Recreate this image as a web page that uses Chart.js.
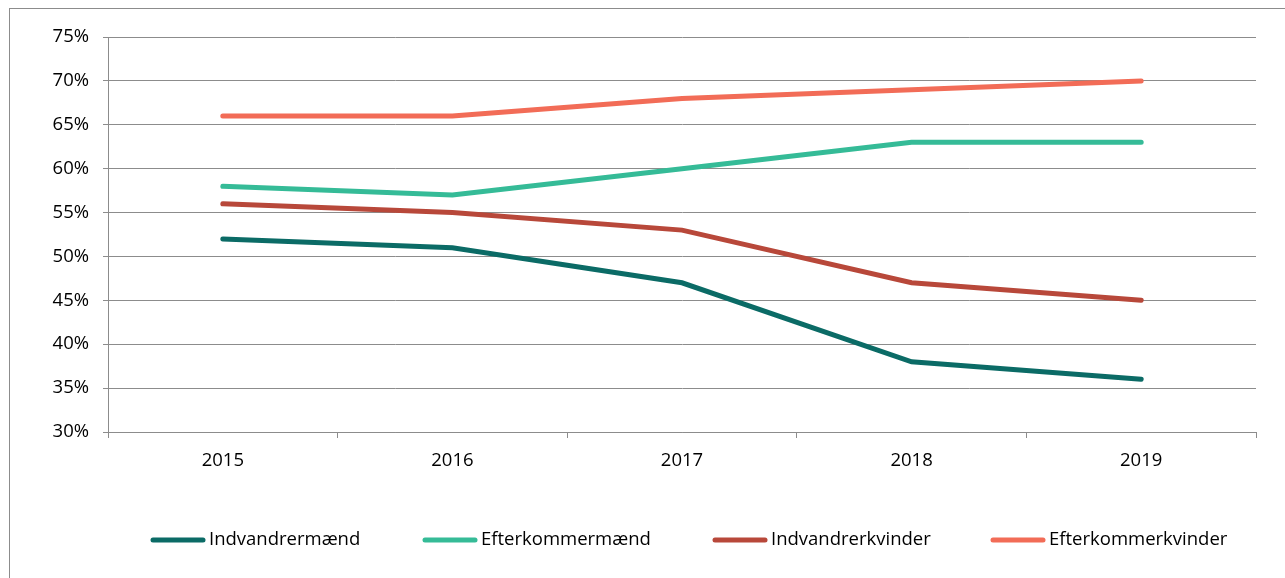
<!DOCTYPE html>
<html>
<head>
    <meta charset="utf-8">
    <title>Beskæftigelse</title>
    <script src="https://cdn.jsdelivr.net/npm/chart.js"></script>
    <style>
        body { margin: 0; background: #fff; }
        #frame { position: absolute; left: 9px; top: 8px; width: 1290px; height: 590px;
                 border-left: 1px solid #8c8c8c; border-top: 1px solid #8c8c8c; }
        #wrap { position: absolute; left: 0; top: 0; width: 1285px; height: 578px; }
    </style>
</head>
<body>
    <div id="frame"></div>
    <div id="wrap"><canvas id="myChart" width="1285" height="578"></canvas></div>

    <script>
        // data
        var years = ['2015', '2016', '2017', '2018', '2019'];
        var indvandrerMaend = [52, 51, 47, 38, 36];
        var efterkommerMaend = [58, 57, 60, 63, 63];
        var indvandrerKvinder = [56, 55, 53, 47, 45];
        var efterkommerKvinder = [66, 66, 68, 69, 70];
        var yTicks = [30, 35, 40, 45, 50, 55, 60, 65, 70, 75];

        var FONT = 'Open Sans';

        function line(label, data, color) {
            return {
                label: label, data: data, borderColor: color, backgroundColor: color,
                borderWidth: 5, borderCapStyle: 'round', pointRadius: 0, tension: 0, fill: false
            };
        }

        // own legend so it sits where the original one is
        var legendPlugin = {
            id: 'ownLegend',
            afterDraw: function(chart) {
                var ctx = chart.ctx;
                var starts = [150, 422, 712, 990];
                var y = 540;
                ctx.save();
                ctx.font = '18.5px "' + FONT + '"';
                ctx.textBaseline = 'middle';
                chart.data.datasets.forEach(function(ds, i) {
                    var x = starts[i];
                    ctx.strokeStyle = ds.borderColor;
                    ctx.lineWidth = 5;
                    ctx.lineCap = 'round';
                    ctx.beginPath();
                    ctx.moveTo(x + 3, y);
                    ctx.lineTo(x + 53, y);
                    ctx.stroke();
                    ctx.fillStyle = '#000';
                    ctx.fillText(ds.label, x + 59, y);
                });
                ctx.restore();
            }
        };

        var ctx = document.getElementById('myChart').getContext('2d');
        var myChart = new Chart(ctx, {
            type: 'line',
            data: {
                labels: years,
                datasets: [
                    line('Indvandrermænd', indvandrerMaend, '#0b6b66'),
                    line('Efterkommermænd', efterkommerMaend, '#35bb97'),
                    line('Indvandrerkvinder', indvandrerKvinder, '#b8483a'),
                    line('Efterkommerkvinder', efterkommerKvinder, '#f26c57')
                ]
            },
            options: {
                responsive: false,
                animation: false,
                layout: { padding: { left: 0, right: 29, top: 37, bottom: 0 } },
                plugins: { legend: { display: false }, tooltip: { enabled: false } },
                scales: {
                    x: {
                        offset: true,
                        grid: { offset: true, drawOnChartArea: false, drawTicks: true, tickLength: 6, color: '#8c8c8c' },
                        border: { color: '#8c8c8c' },
                        ticks: { color: '#000', padding: 12, font: { family: FONT, size: 18.5 } },
                        afterFit: function(s) { s.height = 146; }
                    },
                    y: {
                        min: 30, max: 75,
                        afterBuildTicks: function(s) { s.ticks = yTicks.map(function(v) { return { value: v }; }); },
                        grid: { color: '#8c8c8c', tickLength: 5 },
                        border: { color: '#8c8c8c' },
                        ticks: {
                            color: '#000', padding: 14, font: { family: FONT, size: 18.5 },
                            callback: function(v) { return v + '%'; }
                        },
                        afterFit: function(s) { s.width = 108; }
                    }
                }
            },
            plugins: [legendPlugin]
        });
    </script>
</body>
</html>
